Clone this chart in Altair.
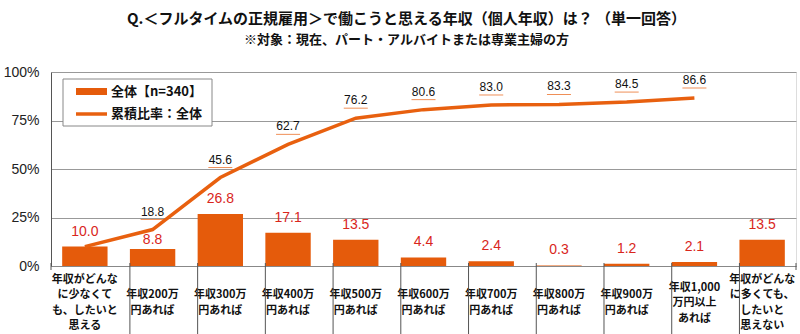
import altair as alt
import pandas as pd

categories = [
    "年収がどんな\nに少なくて\nも、したいと\n思える",
    "年収200万\n円あれば",
    "年収300万\n円あれば",
    "年収400万\n円あれば",
    "年収500万\n円あれば",
    "年収600万\n円あれば",
    "年収700万\n円あれば",
    "年収800万\n円あれば",
    "年収900万\n円あれば",
    "年収1,000\n万円以上\nあれば",
    "年収がどんな\nに多くても、\nしたいと\n思えない",
]
share = [10.0, 8.8, 26.8, 17.1, 13.5, 4.4, 2.4, 0.3, 1.2, 2.1, 13.5]
cumulative = [10.0, 18.8, 45.6, 62.7, 76.2, 80.6, 83.0, 83.3, 84.5, 86.6, None]
legend_labels = ["全体【n=340】", "累積比率：全体"]

title_text = "Q.＜フルタイムの正規雇用＞で働こうと思える年収（個人年収）は？ （単一回答）"
subtitle_text = "※対象：現在、パート・アルバイトまたは専業主婦の方"

BAR = "#E55B0B"
LINE = "#E8600F"
RED = "#D9261C"
JP = "Noto Sans CJK JP"
LAT = "Liberation Sans"

df = pd.DataFrame({"cat": categories, "share": share, "cum": cumulative, "idx": list(range(len(categories)))})

W, H = 745, 194
LABEL_CENTER = 37   # px below the axis where label blocks are centred
LINE_H = 15.5

xscale = alt.Scale(domain=categories, paddingInner=0.33, paddingOuter=0.165)
yscale = alt.Scale(domain=[0, 100])


def xe(**kw):
    return alt.X("cat:N", scale=xscale, sort=categories, axis=None, **kw)


def ye(field):
    return alt.Y(field, scale=yscale, axis=None)


x_main = alt.X(
    "cat:N", scale=xscale, sort=categories, title=None,
    axis=alt.Axis(labels=False, ticks=False, domainColor="#888", domainWidth=1),
)
y_main = alt.Y(
    "share:Q", scale=yscale, title=None,
    axis=alt.Axis(
        values=[0, 25, 50, 75, 100], labelExpr="datum.value + '%'",
        labelFont=LAT, labelFontSize=14, labelColor="#222", labelPadding=12,
        ticks=False, domainColor="#555", gridColor="#999", gridWidth=1,
    ),
)

base = alt.Chart(df)

bars = base.mark_bar(color=BAR).encode(x=x_main, y=y_main)

collide = "isValid(datum.cum) && datum.cum - datum.share > 0 && datum.cum - datum.share < 15"

bar_labels = base.transform_filter("!(" + collide + ")").mark_text(
    font=LAT, fontSize=14, color=RED, baseline="middle", dy=-15
).encode(x=xe(), y=ye("share:Q"), text=alt.Text("share:Q", format=".1f"))

bar_labels_low = base.transform_filter(collide).mark_text(
    font=LAT, fontSize=14, color=RED, baseline="middle", dy=-9
).encode(x=xe(), y=ye("share:Q"), text=alt.Text("share:Q", format=".1f"))

line = base.transform_filter("isValid(datum.cum)").mark_line(
    color=LINE, strokeWidth=3.5
).encode(x=xe(), y=ye("cum:Q"))

cum_filtered = base.transform_filter("isValid(datum.cum) && datum.idx > 0")

cum_labels = cum_filtered.mark_text(font=LAT, fontSize=12, color="#111", baseline="middle", dy=-18).encode(
    x=xe(), y=ye("cum:Q"), text=alt.Text("cum:Q", format=".1f"),
)

cum_underline = cum_filtered.mark_tick(color=LINE, thickness=1, size=24, orient="horizontal", yOffset=-10).encode(
    x=xe(), y=ye("cum:Q"),
)

# category labels: one text mark per line, each block centred under the axis
cat_labels = base.transform_calculate(
    lines="split(datum.cat, '\\n')",
    nlines="length(split(datum.cat, '\\n'))",
).transform_flatten(["lines"], as_=["line"]).transform_window(
    li="row_number()", groupby=["cat"]
).transform_calculate(
    ly="-(%f + (datum.li - 1 - (datum.nlines - 1) / 2) * %f) * 100 / %d" % (LABEL_CENTER, LINE_H, H),
).mark_text(
    font=JP, fontSize=11, fontWeight="bold", color="#111", baseline="middle",
).encode(x=xe(), y=alt.Y("ly:Q", scale=yscale, axis=None), text="line:N")

separators = base.transform_filter("datum.idx > 0").mark_rule(color="#555", strokeWidth=1).encode(
    x=xe(bandPosition=0),
    y=alt.value(H - 3),
    y2=alt.value(H + 68),
)

one = pd.DataFrame({"a": [0]})
edge_left = alt.Chart(one).mark_rule(color="#555").encode(
    x=alt.value(0), y=alt.value(H - 3), y2=alt.value(H + 4)
)
edge_right = alt.Chart(one).mark_rule(color="#555").encode(
    x=alt.value(W), y=alt.value(H - 3), y2=alt.value(H + 4)
)

leg_df = pd.DataFrame({"label": legend_labels, "row": [0, 1]})
leg_box = alt.Chart(one).mark_rect(fill="white", stroke="#888", strokeWidth=1).encode(
    x=alt.value(12), x2=alt.value(161), y=alt.value(7), y2=alt.value(54)
)
leg_bar = alt.Chart(one).mark_rect(fill=BAR).encode(
    x=alt.value(25), x2=alt.value(56), y=alt.value(16), y2=alt.value(23)
)
leg_line = alt.Chart(one).mark_rule(color=LINE, strokeWidth=3.5).encode(
    x=alt.value(25), x2=alt.value(56), y=alt.value(42)
)
leg_style = dict(font=JP, fontSize=13, fontWeight="bold", color="#111", align="left", baseline="middle")
leg_text1 = alt.Chart(leg_df).transform_filter("datum.row == 0").mark_text(**leg_style).encode(
    x=alt.value(60), y=alt.value(20), text="label:N"
)
leg_text2 = alt.Chart(leg_df).transform_filter("datum.row == 1").mark_text(**leg_style).encode(
    x=alt.value(60), y=alt.value(42), text="label:N"
)

chart = alt.layer(
    bars, line, bar_labels, bar_labels_low, cum_labels, cum_underline, cat_labels,
    separators, edge_left, edge_right, leg_box, leg_bar, leg_line, leg_text1, leg_text2,
).resolve_scale(x="shared", y="shared").resolve_axis(x="independent", y="independent").properties(
    width=W, height=H,
    title=alt.TitleParams(
        text=title_text, subtitle=subtitle_text,
        font=JP, fontSize=15, fontWeight="bold", color="#111",
        subtitleFont=JP, subtitleFontSize=13, subtitleFontWeight="bold", subtitleColor="#111",
        subtitlePadding=7, anchor="middle", dx=-17, offset=18,
    ),
    padding={"left": 51, "top": 72, "right": 4, "bottom": 68},
    autosize="none",
).configure_view(stroke="#999", strokeWidth=1).configure(background="white")

chart.save("out.html", embed_options={"renderer": "svg", "actions": False})
